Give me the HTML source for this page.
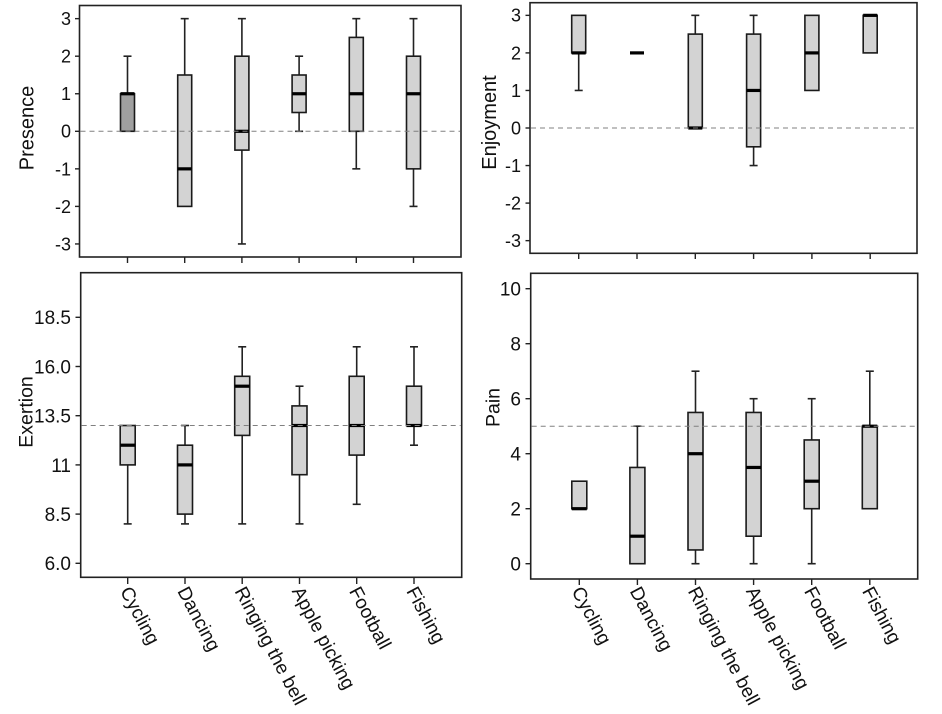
<!DOCTYPE html>
<html><head><meta charset="utf-8"><style>
html,body{margin:0;padding:0;background:#fff;}
svg{display:block;}
text{font-family:"Liberation Sans",Arial,sans-serif;fill:#111;}
.fr{fill:none;stroke:#222;stroke-width:1.6;}
.tk{stroke:#222;stroke-width:1.4;}
.wh{stroke:#222;stroke-width:1.6;fill:none;}
.bx{fill:#d3d3d3;stroke:#1a1a1a;stroke-width:1.6;}
.bxd{fill:#a0a0a0;stroke:#1a1a1a;stroke-width:1.6;}
.md{stroke:#000;stroke-width:3.2;}
.ds{stroke:#808080;stroke-width:1;stroke-dasharray:5 4;}
.t16{font-size:18px;text-anchor:end;}
.t19{font-size:19px;text-anchor:end;}
.t18{font-size:19px;text-anchor:end;}
.yl{font-size:20px;text-anchor:middle;}
.xl{font-size:19px;}
</style></head><body>
<svg width="942" height="714" viewBox="0 0 942 714" xmlns="http://www.w3.org/2000/svg">

<!-- ===== TOP LEFT: Presence ===== -->
<g>
<rect class="fr" x="79.5" y="5.5" width="381.5" height="251.5"/>
<line class="tk" x1="75" y1="18.65" x2="79.5" y2="18.65"/>
<line class="tk" x1="75" y1="56.2" x2="79.5" y2="56.2"/>
<line class="tk" x1="75" y1="93.75" x2="79.5" y2="93.75"/>
<line class="tk" x1="75" y1="131.3" x2="79.5" y2="131.3"/>
<line class="tk" x1="75" y1="168.85" x2="79.5" y2="168.85"/>
<line class="tk" x1="75" y1="206.4" x2="79.5" y2="206.4"/>
<line class="tk" x1="75" y1="243.95" x2="79.5" y2="243.95"/>
<text class="t16" x="71" y="25">3</text>
<text class="t16" x="71" y="62.6">2</text>
<text class="t16" x="71" y="100.2">1</text>
<text class="t16" x="71" y="137.7">0</text>
<text class="t16" x="71" y="175.3">-1</text>
<text class="t16" x="71" y="212.8">-2</text>
<text class="t16" x="71" y="250.4">-3</text>
<line class="tk" x1="127.5" y1="257" x2="127.5" y2="263"/>
<line class="tk" x1="184.7" y1="257" x2="184.7" y2="263"/>
<line class="tk" x1="241.9" y1="257" x2="241.9" y2="263"/>
<line class="tk" x1="299.1" y1="257" x2="299.1" y2="263"/>
<line class="tk" x1="356.3" y1="257" x2="356.3" y2="263"/>
<line class="tk" x1="413.5" y1="257" x2="413.5" y2="263"/>
<text class="yl" transform="translate(33.3,128) rotate(-90)">Presence</text>
<!-- Cycling -->
<line class="wh" x1="127.5" y1="56.2" x2="127.5" y2="93.75"/>
<line class="wh" x1="123.5" y1="56.2" x2="131.5" y2="56.2"/>
<rect class="bxd" x="120.5" y="93.75" width="14" height="37.55"/>
<line class="md" x1="120.5" y1="93.75" x2="134.5" y2="93.75"/>
<!-- Dancing -->
<line class="wh" x1="184.7" y1="18.65" x2="184.7" y2="75"/>
<line class="wh" x1="180.7" y1="18.65" x2="188.7" y2="18.65"/>
<rect class="bx" x="177.7" y="75" width="14" height="131.4"/>
<line class="md" x1="177.7" y1="168.85" x2="191.7" y2="168.85"/>
<!-- Ringing -->
<line class="wh" x1="241.9" y1="18.65" x2="241.9" y2="56.2"/>
<line class="wh" x1="237.9" y1="18.65" x2="245.9" y2="18.65"/>
<line class="wh" x1="241.9" y1="150.1" x2="241.9" y2="243.95"/>
<line class="wh" x1="237.9" y1="243.95" x2="245.9" y2="243.95"/>
<rect class="bx" x="234.9" y="56.2" width="14" height="93.9"/>
<line class="md" x1="234.9" y1="131.3" x2="248.9" y2="131.3"/>
<!-- Apple -->
<line class="wh" x1="299.1" y1="56.2" x2="299.1" y2="75"/>
<line class="wh" x1="295.1" y1="56.2" x2="303.1" y2="56.2"/>
<line class="wh" x1="299.1" y1="112.5" x2="299.1" y2="131.3"/>
<line class="wh" x1="295.1" y1="131.3" x2="303.1" y2="131.3"/>
<rect class="bx" x="292.1" y="75" width="14" height="37.5"/>
<line class="md" x1="292.1" y1="93.75" x2="306.1" y2="93.75"/>
<!-- Football -->
<line class="wh" x1="356.3" y1="18.65" x2="356.3" y2="37.4"/>
<line class="wh" x1="352.3" y1="18.65" x2="360.3" y2="18.65"/>
<line class="wh" x1="356.3" y1="131.3" x2="356.3" y2="168.85"/>
<line class="wh" x1="352.3" y1="168.85" x2="360.3" y2="168.85"/>
<rect class="bx" x="349.3" y="37.4" width="14" height="93.9"/>
<line class="md" x1="349.3" y1="93.75" x2="363.3" y2="93.75"/>
<!-- Fishing -->
<line class="wh" x1="413.5" y1="18.65" x2="413.5" y2="56.2"/>
<line class="wh" x1="409.5" y1="18.65" x2="417.5" y2="18.65"/>
<line class="wh" x1="413.5" y1="168.85" x2="413.5" y2="206.4"/>
<line class="wh" x1="409.5" y1="206.4" x2="417.5" y2="206.4"/>
<rect class="bx" x="406.5" y="56.2" width="14" height="112.65"/>
<line class="md" x1="406.5" y1="93.75" x2="420.5" y2="93.75"/>
<line class="ds" x1="80.5" y1="131.3" x2="460" y2="131.3"/>
</g>

<!-- ===== TOP RIGHT: Enjoyment ===== -->
<g>
<rect class="fr" x="530" y="2.7" width="387" height="250.6"/>
<line class="tk" x1="525.5" y1="15.35" x2="530" y2="15.35"/>
<line class="tk" x1="525.5" y1="52.9" x2="530" y2="52.9"/>
<line class="tk" x1="525.5" y1="90.45" x2="530" y2="90.45"/>
<line class="tk" x1="525.5" y1="128" x2="530" y2="128"/>
<line class="tk" x1="525.5" y1="165.55" x2="530" y2="165.55"/>
<line class="tk" x1="525.5" y1="203.1" x2="530" y2="203.1"/>
<line class="tk" x1="525.5" y1="240.65" x2="530" y2="240.65"/>
<text class="t16" x="521" y="21.7">3</text>
<text class="t16" x="521" y="59.3">2</text>
<text class="t16" x="521" y="96.9">1</text>
<text class="t16" x="521" y="134.4">0</text>
<text class="t16" x="521" y="172">-1</text>
<text class="t16" x="521" y="209.5">-2</text>
<text class="t16" x="521" y="247.1">-3</text>
<line class="tk" x1="578.7" y1="253.3" x2="578.7" y2="259"/>
<line class="tk" x1="637" y1="253.3" x2="637" y2="259"/>
<line class="tk" x1="695.3" y1="253.3" x2="695.3" y2="259"/>
<line class="tk" x1="753.6" y1="253.3" x2="753.6" y2="259"/>
<line class="tk" x1="811.9" y1="253.3" x2="811.9" y2="259"/>
<line class="tk" x1="870.2" y1="253.3" x2="870.2" y2="259"/>
<text class="yl" transform="translate(496,122.5) rotate(-90)">Enjoyment</text>
<!-- Cycling -->
<line class="wh" x1="578.7" y1="52.9" x2="578.7" y2="90.45"/>
<line class="wh" x1="574.7" y1="90.45" x2="582.7" y2="90.45"/>
<rect class="bx" x="571.7" y="15.35" width="14" height="37.55"/>
<line class="md" x1="571.7" y1="52.9" x2="585.7" y2="52.9"/>
<!-- Dancing -->
<line class="md" x1="630" y1="52.9" x2="644" y2="52.9"/>
<!-- Ringing -->
<line class="wh" x1="695.3" y1="15.35" x2="695.3" y2="34.1"/>
<line class="wh" x1="691.3" y1="15.35" x2="699.3" y2="15.35"/>
<rect class="bx" x="688.3" y="34.1" width="14" height="93.9"/>
<line class="md" x1="688.3" y1="128" x2="702.3" y2="128"/>
<!-- Apple -->
<line class="wh" x1="753.6" y1="15.35" x2="753.6" y2="34.1"/>
<line class="wh" x1="749.6" y1="15.35" x2="757.6" y2="15.35"/>
<line class="wh" x1="753.6" y1="146.8" x2="753.6" y2="165.55"/>
<line class="wh" x1="749.6" y1="165.55" x2="757.6" y2="165.55"/>
<rect class="bx" x="746.6" y="34.1" width="14" height="112.7"/>
<line class="md" x1="746.6" y1="90.45" x2="760.6" y2="90.45"/>
<!-- Football -->
<rect class="bx" x="804.9" y="15.35" width="14" height="75.1"/>
<line class="md" x1="804.9" y1="52.9" x2="818.9" y2="52.9"/>
<!-- Fishing -->
<rect class="bx" x="863.2" y="15.35" width="14" height="37.55"/>
<line class="md" x1="863.2" y1="15.35" x2="877.2" y2="15.35"/>
<line class="ds" x1="531" y1="128" x2="916" y2="128"/>
</g>

<!-- ===== BOTTOM LEFT: Exertion ===== -->
<g>
<rect class="fr" x="80.7" y="272.7" width="381" height="304.6"/>
<line class="tk" x1="75.5" y1="317.3" x2="80.7" y2="317.3"/>
<line class="tk" x1="75.5" y1="366.5" x2="80.7" y2="366.5"/>
<line class="tk" x1="75.5" y1="415.7" x2="80.7" y2="415.7"/>
<line class="tk" x1="75.5" y1="464.9" x2="80.7" y2="464.9"/>
<line class="tk" x1="75.5" y1="514.1" x2="80.7" y2="514.1"/>
<line class="tk" x1="75.5" y1="563.3" x2="80.7" y2="563.3"/>
<text class="t19" x="71" y="324.2">18.5</text>
<text class="t19" x="71" y="373.4">16.0</text>
<text class="t19" x="71" y="422.6">13.5</text>
<text class="t19" x="71" y="471.8">11</text>
<text class="t19" x="71" y="521">8.5</text>
<text class="t19" x="71" y="570.2">6.0</text>
<line class="tk" x1="127.7" y1="577.3" x2="127.7" y2="584"/>
<line class="tk" x1="185" y1="577.3" x2="185" y2="584"/>
<line class="tk" x1="242.2" y1="577.3" x2="242.2" y2="584"/>
<line class="tk" x1="299.5" y1="577.3" x2="299.5" y2="584"/>
<line class="tk" x1="356.7" y1="577.3" x2="356.7" y2="584"/>
<line class="tk" x1="414" y1="577.3" x2="414" y2="584"/>
<text class="yl" style="font-size:19.5px" transform="translate(32.5,412) rotate(-90)">Exertion</text>
<!-- Cycling -->
<line class="wh" x1="127.7" y1="464.9" x2="127.7" y2="523.9"/>
<line class="wh" x1="123.7" y1="523.9" x2="131.7" y2="523.9"/>
<rect class="bx" x="120.2" y="425.5" width="15" height="39.4"/>
<line class="md" x1="120.2" y1="445.2" x2="135.2" y2="445.2"/>
<!-- Dancing -->
<line class="wh" x1="185" y1="425.5" x2="185" y2="445.2"/>
<line class="wh" x1="181" y1="425.5" x2="189" y2="425.5"/>
<line class="wh" x1="185" y1="514.1" x2="185" y2="523.9"/>
<line class="wh" x1="181" y1="523.9" x2="189" y2="523.9"/>
<rect class="bx" x="177.5" y="445.2" width="15" height="68.9"/>
<line class="md" x1="177.5" y1="464.9" x2="192.5" y2="464.9"/>
<!-- Ringing -->
<line class="wh" x1="242.2" y1="346.8" x2="242.2" y2="376.3"/>
<line class="wh" x1="238.2" y1="346.8" x2="246.2" y2="346.8"/>
<line class="wh" x1="242.2" y1="435.4" x2="242.2" y2="523.9"/>
<line class="wh" x1="238.2" y1="523.9" x2="246.2" y2="523.9"/>
<rect class="bx" x="234.7" y="376.3" width="15" height="59.1"/>
<line class="md" x1="234.7" y1="386.2" x2="249.7" y2="386.2"/>
<!-- Apple -->
<line class="wh" x1="299.5" y1="386.2" x2="299.5" y2="405.9"/>
<line class="wh" x1="295.5" y1="386.2" x2="303.5" y2="386.2"/>
<line class="wh" x1="299.5" y1="474.7" x2="299.5" y2="523.9"/>
<line class="wh" x1="295.5" y1="523.9" x2="303.5" y2="523.9"/>
<rect class="bx" x="292" y="405.9" width="15" height="68.8"/>
<line class="md" x1="292" y1="425.5" x2="307" y2="425.5"/>
<!-- Football -->
<line class="wh" x1="356.7" y1="346.8" x2="356.7" y2="376.3"/>
<line class="wh" x1="352.7" y1="346.8" x2="360.7" y2="346.8"/>
<line class="wh" x1="356.7" y1="455.1" x2="356.7" y2="504.3"/>
<line class="wh" x1="352.7" y1="504.3" x2="360.7" y2="504.3"/>
<rect class="bx" x="349.2" y="376.3" width="15" height="78.8"/>
<line class="md" x1="349.2" y1="425.5" x2="364.2" y2="425.5"/>
<!-- Fishing -->
<line class="wh" x1="414" y1="346.8" x2="414" y2="386.2"/>
<line class="wh" x1="410" y1="346.8" x2="418" y2="346.8"/>
<line class="wh" x1="414" y1="425.5" x2="414" y2="445.2"/>
<line class="wh" x1="410" y1="445.2" x2="418" y2="445.2"/>
<rect class="bx" x="406.5" y="386.2" width="15" height="39.3"/>
<line class="md" x1="406.5" y1="425.5" x2="421.5" y2="425.5"/>
<line class="ds" x1="81.7" y1="425.5" x2="460.7" y2="425.5"/>
<text class="xl" transform="translate(119.7,591) rotate(62)">Cycling</text>
<text class="xl" transform="translate(177,591) rotate(62)">Dancing</text>
<text class="xl" transform="translate(234.2,591) rotate(62)">Ringing the bell</text>
<text class="xl" transform="translate(291.5,591) rotate(62)">Apple picking</text>
<text class="xl" transform="translate(348.7,591) rotate(62)">Football</text>
<text class="xl" transform="translate(406,591) rotate(62)">Fishing</text>
</g>

<!-- ===== BOTTOM RIGHT: Pain ===== -->
<g>
<rect class="fr" x="530.7" y="273.3" width="387" height="305.7"/>
<line class="tk" x1="525.5" y1="288.7" x2="530.7" y2="288.7"/>
<line class="tk" x1="525.5" y1="343.7" x2="530.7" y2="343.7"/>
<line class="tk" x1="525.5" y1="398.7" x2="530.7" y2="398.7"/>
<line class="tk" x1="525.5" y1="453.7" x2="530.7" y2="453.7"/>
<line class="tk" x1="525.5" y1="508.7" x2="530.7" y2="508.7"/>
<line class="tk" x1="525.5" y1="563.7" x2="530.7" y2="563.7"/>
<text class="t18" x="521" y="295.5">10</text>
<text class="t18" x="521" y="350.5">8</text>
<text class="t18" x="521" y="405.5">6</text>
<text class="t18" x="521" y="460.5">4</text>
<text class="t18" x="521" y="515.5">2</text>
<text class="t18" x="521" y="570.5">0</text>
<line class="tk" x1="579.3" y1="579" x2="579.3" y2="585"/>
<line class="tk" x1="637.4" y1="579" x2="637.4" y2="585"/>
<line class="tk" x1="695.5" y1="579" x2="695.5" y2="585"/>
<line class="tk" x1="753.6" y1="579" x2="753.6" y2="585"/>
<line class="tk" x1="811.7" y1="579" x2="811.7" y2="585"/>
<line class="tk" x1="869.8" y1="579" x2="869.8" y2="585"/>
<text class="yl" style="font-size:19.5px" transform="translate(499.5,407.5) rotate(-90)">Pain</text>
<!-- Cycling -->
<rect class="bx" x="571.8" y="481.2" width="15" height="27.5"/>
<line class="md" x1="571.8" y1="508.7" x2="586.8" y2="508.7"/>
<!-- Dancing -->
<line class="wh" x1="637.4" y1="426.2" x2="637.4" y2="467.45"/>
<line class="wh" x1="633.4" y1="426.2" x2="641.4" y2="426.2"/>
<rect class="bx" x="629.9" y="467.45" width="15" height="96.25"/>
<line class="md" x1="629.9" y1="536.2" x2="644.9" y2="536.2"/>
<!-- Ringing -->
<line class="wh" x1="695.5" y1="371.2" x2="695.5" y2="412.45"/>
<line class="wh" x1="691.5" y1="371.2" x2="699.5" y2="371.2"/>
<line class="wh" x1="695.5" y1="549.95" x2="695.5" y2="563.7"/>
<line class="wh" x1="691.5" y1="563.7" x2="699.5" y2="563.7"/>
<rect class="bx" x="688" y="412.45" width="15" height="137.5"/>
<line class="md" x1="688" y1="453.7" x2="703" y2="453.7"/>
<!-- Apple -->
<line class="wh" x1="753.6" y1="398.7" x2="753.6" y2="412.45"/>
<line class="wh" x1="749.6" y1="398.7" x2="757.6" y2="398.7"/>
<line class="wh" x1="753.6" y1="536.2" x2="753.6" y2="563.7"/>
<line class="wh" x1="749.6" y1="563.7" x2="757.6" y2="563.7"/>
<rect class="bx" x="746.1" y="412.45" width="15" height="123.75"/>
<line class="md" x1="746.1" y1="467.45" x2="761.1" y2="467.45"/>
<!-- Football -->
<line class="wh" x1="811.7" y1="398.7" x2="811.7" y2="439.95"/>
<line class="wh" x1="807.7" y1="398.7" x2="815.7" y2="398.7"/>
<line class="wh" x1="811.7" y1="508.7" x2="811.7" y2="563.7"/>
<line class="wh" x1="807.7" y1="563.7" x2="815.7" y2="563.7"/>
<rect class="bx" x="804.2" y="439.95" width="15" height="68.75"/>
<line class="md" x1="804.2" y1="481.2" x2="819.2" y2="481.2"/>
<!-- Fishing -->
<line class="wh" x1="869.8" y1="371.2" x2="869.8" y2="426.2"/>
<line class="wh" x1="865.8" y1="371.2" x2="873.8" y2="371.2"/>
<rect class="bx" x="862.3" y="426.2" width="15" height="82.5"/>
<line class="md" x1="862.3" y1="426.2" x2="877.3" y2="426.2"/>
<line class="ds" x1="531.7" y1="426.2" x2="916.7" y2="426.2"/>
<text class="xl" transform="translate(571.3,591) rotate(62)">Cycling</text>
<text class="xl" transform="translate(629.4,591) rotate(62)">Dancing</text>
<text class="xl" transform="translate(687.5,591) rotate(62)">Ringing the bell</text>
<text class="xl" transform="translate(745.6,591) rotate(62)">Apple picking</text>
<text class="xl" transform="translate(803.7,591) rotate(62)">Football</text>
<text class="xl" transform="translate(861.8,591) rotate(62)">Fishing</text>
</g>
</svg>
</body></html>
